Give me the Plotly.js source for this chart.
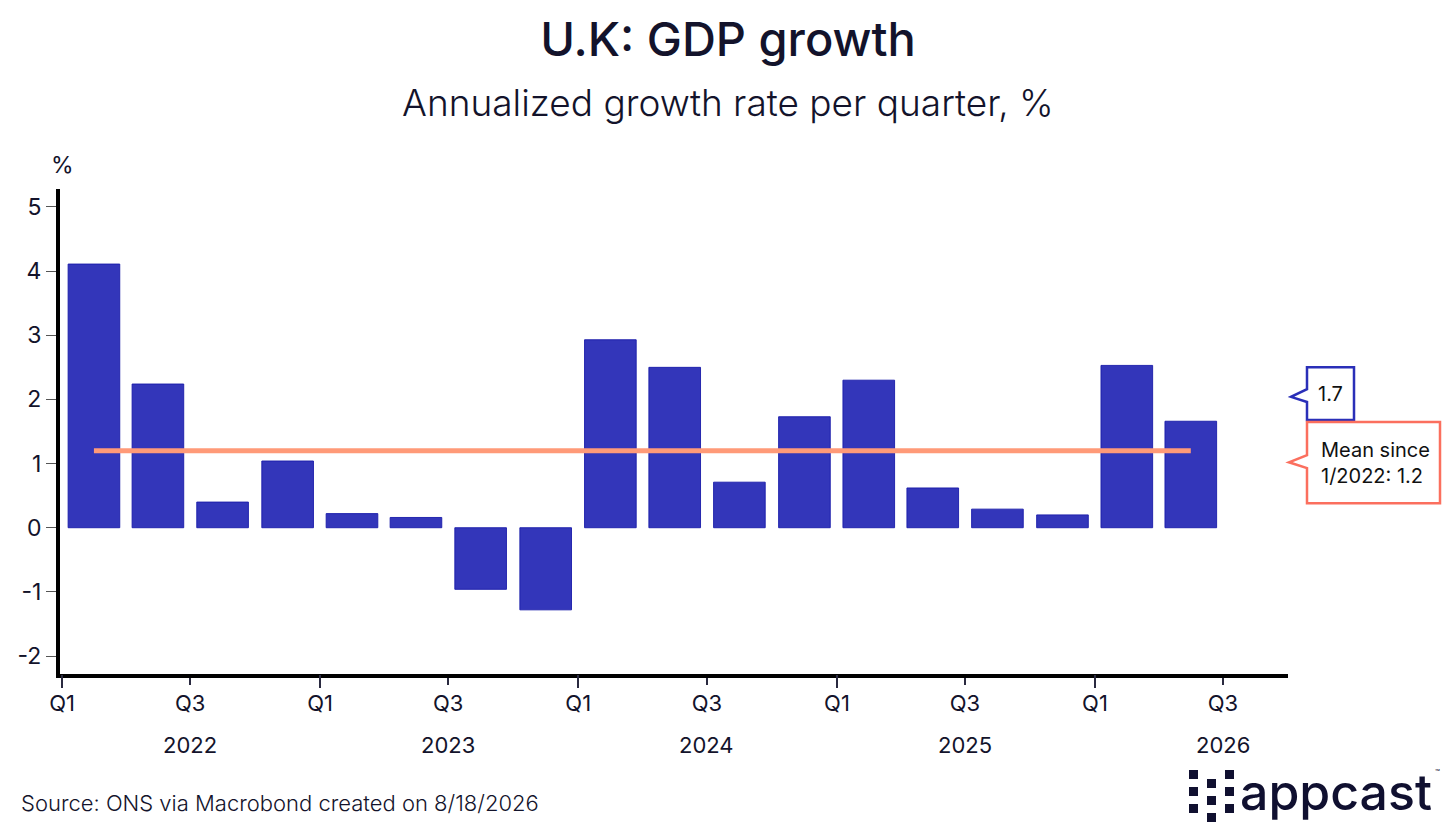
<!DOCTYPE html>
<html>
<head>
<meta charset="utf-8">
<script src="https://cdn.plot.ly/plotly-3.0.1.min.js"></script>
<style>
  html, body { margin: 0; padding: 0; background: #fff; }
  #chart { width: 1456px; height: 840px; }
</style>
</head>
<body>
<div id="chart"></div>
<script>
// quarterly data, Q1 2022 .. Q2 2026 (period start dates)
const quarters = [
  "2022-01-01", "2022-04-01", "2022-07-01", "2022-10-01",
  "2023-01-01", "2023-04-01", "2023-07-01", "2023-10-01",
  "2024-01-01", "2024-04-01", "2024-07-01", "2024-10-01",
  "2025-01-01", "2025-04-01", "2025-07-01", "2025-10-01",
  "2026-01-01", "2026-04-01"
];
const growth = [
  4.11, 2.24, 0.40, 1.04,
  0.22, 0.16, -0.96, -1.28,
  2.93, 2.50, 0.71, 1.73,
  2.30, 0.62, 0.29, 0.20,
  2.53, 1.66
];
const meanValue = 1.2;
const lastValueLabel = "1.7";
const meanLabel = "Mean since<br>1/2022: 1.2";

// axis ticks
const halfYearTicks = [
  "2022-01-01", "2022-07-01", "2023-01-01", "2023-07-01", "2024-01-01",
  "2024-07-01", "2025-01-01", "2025-07-01", "2026-01-01", "2026-07-01"
];
const halfYearText = ["Q1", "Q3", "Q1", "Q3", "Q1", "Q3", "Q1", "Q3", "Q1", "Q3"];
const yearTicks = ["2022-01-01", "2023-01-01", "2024-01-01", "2025-01-01", "2026-01-01"];
const yearLabelPos = ["2022-07-01", "2023-07-01", "2024-07-01", "2025-07-01", "2026-07-01"];
const yearLabels = ["2022", "2023", "2024", "2025", "2026"];
const yTickVals = [-2, -1, 0, 1, 2, 3, 4, 5];
const yTickText = ["-2", "-1", "0", "1", "2", "3", "4", "5"];

const FONT = "Inter, 'Open Sans', sans-serif";
const INK = "#13132b";
const BAR = "#3336ba";
const MEAN = "#ff9a78";
const CALL_BLUE = "#2a2fb8";
const CALL_RED = "#fb6f5e";

// page geometry (pixels)
const W = 1456, H = 840;
const M = { l: 60, r: 168, t: 189, b: 166 };
const plotW = W - M.l - M.r, plotH = H - M.t - M.b;
const px = x => (x - M.l) / plotW;        // page px -> paper x
const py = y => (H - M.b - y) / plotH;    // page px -> paper y

const quarterMs = 91.3 * 24 * 3600 * 1000;

const bars = {
  type: "bar",
  x: quarters,
  y: growth,
  xperiod: "M3",
  xperiodalignment: "middle",
  width: quarterMs * 0.8,
  marker: { color: BAR, line: { color: "rgba(25,28,170,0.9)", width: 1 } },
  hoverinfo: "x+y",
  showlegend: false
};

// mean line runs from the first bar centre to the last one
const meanLine = {
  type: "scatter",
  mode: "lines",
  x: [quarters[0], quarters[quarters.length - 1]],
  y: [meanValue, meanValue],
  xperiod: "M3",
  xperiodalignment: "middle",
  xaxis: "x2",
  line: { color: MEAN, width: 5 },
  hoverinfo: "skip",
  showlegend: false
};

// callout box with a left pointer, in paper x / data y
function callout(x0, x1, yTop, yBot, pTop, pBot, tipY, tipX, color) {
  const path = `M ${x0} ${yTop} L ${x1} ${yTop} L ${x1} ${yBot} L ${x0} ${yBot} ` +
    `L ${x0} ${pBot} L ${tipX} ${tipY} L ${x0} ${pTop} Z`;
  return {
    type: "path", path: path, xref: "paper", yref: "y",
    fillcolor: "#ffffff", line: { color: color, width: 2.5 }, layer: "above"
  };
}

const shapes = [
  callout(px(1307), px(1354), 2.50, 1.68, 2.16, 1.96, 2.04, px(1291), CALL_BLUE),
  callout(px(1307), px(1440), 1.65, 0.38, 1.13, 0.93, 1.02, px(1289), CALL_RED)
];

// appcast logo squares
const logoCols = [1189, 1207, 1225];
const logoRows = [[770, 787, 804], [779, 796, 813], [770, 787, 804]];
logoCols.forEach((cx, i) => {
  logoRows[i].forEach(cy => {
    shapes.push({
      type: "rect", xref: "paper", yref: "paper",
      x0: px(cx), x1: px(cx + 9), y0: py(cy), y1: py(cy + 9),
      fillcolor: "#101030", line: { width: 0 }
    });
  });
});

const annotations = [
  { text: "Annualized growth rate per quarter, %", xref: "paper", yref: "paper",
    x: px(728), y: py(103), xanchor: "center", yanchor: "middle", showarrow: false,
    font: { family: FONT, size: 37, color: INK, weight: 300 } },
  { text: "%", xref: "paper", yref: "paper", x: px(62), y: py(165),
    xanchor: "center", yanchor: "middle", showarrow: false,
    font: { family: FONT, size: 23, color: INK } },
  { text: lastValueLabel, xref: "paper", yref: "y", x: px(1331), y: 2.09,
    xanchor: "center", yanchor: "middle", showarrow: false,
    font: { family: FONT, size: 20, color: "#111" } },
  { text: meanLabel, xref: "paper", yref: "y", x: px(1319), y: 1.01,
    xanchor: "left", yanchor: "middle", align: "left", showarrow: false,
    font: { family: FONT, size: 20, color: "#111" } },
  { text: "Source: ONS via Macrobond created on 8/18/2026", xref: "paper", yref: "paper",
    x: px(19), y: py(803), xanchor: "left", yanchor: "middle", showarrow: false,
    font: { family: FONT, size: 22, color: INK, weight: 300 } },
  { text: "appcast", xref: "paper", yref: "paper", x: px(1238), y: py(792),
    xanchor: "left", yanchor: "middle", showarrow: false,
    font: { family: FONT, size: 50, color: "#101030", weight: 500 } },
  { text: "™", xref: "paper", yref: "paper", x: px(1433), y: py(772),
    xanchor: "left", yanchor: "middle", showarrow: false,
    font: { family: FONT, size: 8, color: "#101030" } }
];
yearLabels.forEach((t, i) => {
  annotations.push({
    text: t, xref: "x", yref: "paper", x: yearLabelPos[i], y: py(745),
    xanchor: "center", yanchor: "middle", showarrow: false,
    font: { family: FONT, size: 22, color: INK }
  });
});

const xRange = ["2021-12-29", "2026-10-01"];

const layout = {
  width: W, height: H,
  margin: M,
  paper_bgcolor: "#ffffff",
  plot_bgcolor: "#ffffff",
  font: { family: FONT, color: INK },
  title: {
    text: "U.K: GDP growth",
    x: 0.5, xref: "container", xanchor: "center",
    y: 1 - 40 / H, yref: "container", yanchor: "middle",
    font: { family: FONT, size: 47, color: INK, weight: 500 }
  },
  bargap: 0,
  xaxis: {
    type: "date",
    range: xRange,
    tickmode: "array",
    tickvals: halfYearTicks,
    ticktext: halfYearText,
    ticks: "outside", ticklen: 7, tickwidth: 1.5, tickcolor: "#2a2a40",
    tickfont: { family: FONT, size: 22, color: INK },
    showline: true, linewidth: 4, linecolor: "#000",
    showgrid: false, zeroline: false, fixedrange: true
  },
  xaxis2: {
    type: "date",
    overlaying: "x",
    range: xRange,
    tickmode: "array",
    tickvals: yearTicks,
    showticklabels: false,
    ticks: "outside", ticklen: 13, tickwidth: 1.5, tickcolor: "#2a2a40",
    showline: false, showgrid: false, zeroline: false, fixedrange: true
  },
  yaxis: {
    range: [-2.28, 5.28],
    tickmode: "array",
    tickvals: yTickVals,
    ticktext: yTickText,
    ticks: "outside", ticklen: 10, tickwidth: 1, tickcolor: "#555",
    tickfont: { family: FONT, size: 23, color: INK },
    showline: true, linewidth: 4, linecolor: "#000",
    showgrid: false, zeroline: false, fixedrange: true
  },
  shapes: shapes,
  annotations: annotations
};

Plotly.newPlot("chart", [bars, meanLine], layout, { displayModeBar: false, staticPlot: true });
</script>
</body>
</html>
